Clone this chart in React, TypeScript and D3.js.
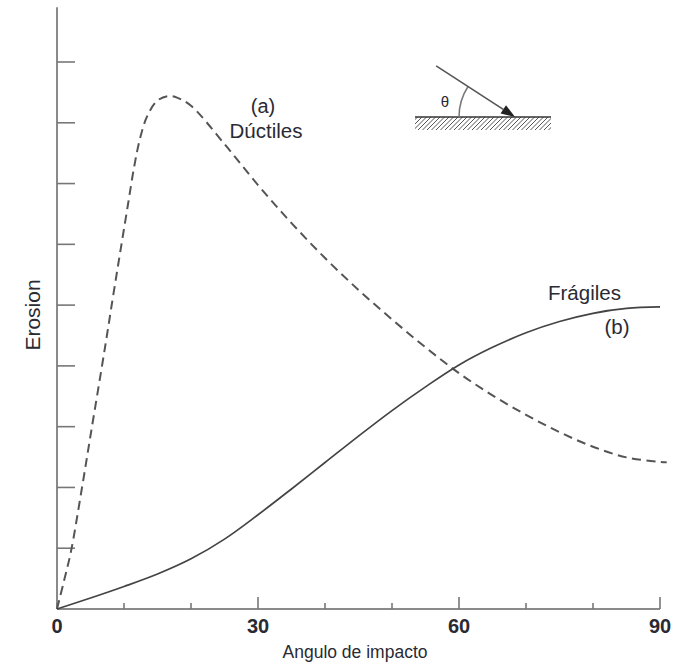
import React from "react";
import * as d3 from "d3";

// Angle of impact (degrees) and erosion (arbitrary units)
const ductileAngle = [0, 1.04, 2.09, 3.66, 5.07, 7.16, 8.42, 9.55, 10.6, 11.49, 12.39, 13.43, 14.93, 16.57, 18, 20, 25, 30, 35, 40, 45, 50, 55, 60, 65, 70, 75, 80, 85, 90, 91];
const ductileValue = [0, 0.46, 0.95, 1.95, 2.9, 4.3, 5.18, 5.95, 6.66, 7.26, 7.74, 8.1, 8.36, 8.44, 8.41, 8.28, 7.65, 6.975, 6.35, 5.775, 5.25, 4.765, 4.305, 3.88, 3.515, 3.195, 2.91, 2.67, 2.495, 2.42, 2.415];

const fragileAngle = [0, 5, 10, 15, 20, 25, 30, 35, 40, 45, 50, 55, 60, 65, 70, 75, 80, 85, 90];
const fragileValue = [0, 0.18, 0.37, 0.575, 0.825, 1.15, 1.55, 1.975, 2.41, 2.845, 3.265, 3.655, 4.015, 4.305, 4.545, 4.73, 4.865, 4.945, 4.97];

const xTicks = [0, 10, 20, 30, 40, 50, 60, 70, 80, 90];
const xTickLabels = [0, 30, 60, 90];
const yTicks = [1, 2, 3, 4, 5, 6, 7, 8, 9];

const FONT = "'Liberation Sans', Arial, sans-serif";
const TEXT = "#2a2a33";

export default function App() {
  const W = 688;
  const H = 667;
  const x = d3.scaleLinear().domain([0, 90]).range([57, 660]);
  const y = d3.scaleLinear().domain([0, 9]).range([609, 62]);

  const line = d3
    .line<[number, number]>()
    .x((d) => x(d[0]))
    .y((d) => y(d[1]))
    .curve(d3.curveCatmullRom.alpha(0.5));

  const ductile = ductileAngle.map((a, i) => [a, ductileValue[i]] as [number, number]);
  const fragile = fragileAngle.map((a, i) => [a, fragileValue[i]] as [number, number]);

  // inset geometry
  const tipX = 515;
  const tipY = 117;
  const ang = (33 * Math.PI) / 180;
  const len = 94;
  const startX = tipX - len * Math.cos(ang);
  const startY = tipY - len * Math.sin(ang);
  const r = 56;
  const arcEndX = tipX - r * Math.cos(ang);
  const arcEndY = tipY - r * Math.sin(ang);
  const ux = Math.cos(ang);
  const uy = Math.sin(ang);
  const ah = 14;
  const aw = 5;
  const baseX = tipX - ah * ux;
  const baseY = tipY - ah * uy;
  const hatchXs = d3.range(400, 560, 4.5);

  return (
    <svg
      width={W}
      height={H}
      style={{ position: "absolute", left: 0, top: 0, background: "#fff" }}
    >
      <defs>
        <clipPath id="hatchClip">
          <rect x={415} y={117} width={136} height={13} />
        </clipPath>
      </defs>
      <rect x={0} y={0} width={W} height={H} fill="#fff" />

      {/* axes */}
      <line x1={x(0)} y1={y(0)} x2={x(0)} y2={y(9.9)} stroke="#8a8a8a" strokeWidth={2} />
      <line x1={x(0)} y1={y(0)} x2={x(90)} y2={y(0)} stroke="#8a8a8a" strokeWidth={2} />
      {yTicks.map((t) => (
        <line key={"yt" + t} x1={x(0)} x2={x(0) + 18} y1={y(t)} y2={y(t)} stroke="#777" strokeWidth={1.6} />
      ))}
      {xTicks.map((t) => (
        <line
          key={"xt" + t}
          x1={x(t)}
          x2={x(t)}
          y1={y(0)}
          y2={y(0) - (t % 30 === 0 && t > 0 ? 12 : 6)}
          stroke="#777"
          strokeWidth={1.6}
        />
      ))}
      {xTickLabels.map((t) => (
        <text
          key={"xl" + t}
          x={x(t)}
          y={633}
          textAnchor="middle"
          fontFamily={FONT}
          fontSize={20}
          fontWeight="bold"
          fill={TEXT}
        >
          {t}
        </text>
      ))}
      <text x={355} y={658} textAnchor="middle" fontFamily={FONT} fontSize={17.5} fill={TEXT}>
        Angulo de impacto
      </text>
      <text
        transform="translate(40,315) rotate(-90)"
        textAnchor="middle"
        fontFamily={FONT}
        fontSize={21}
        fill={TEXT}
      >
        Erosion
      </text>

      {/* curves */}
      <path d={line(ductile) || ""} fill="none" stroke="#555" strokeWidth={2} strokeDasharray="9,5.5" />
      <path d={line(fragile) || ""} fill="none" stroke="#444" strokeWidth={1.7} />

      {/* labels */}
      <text x={263} y={113} textAnchor="middle" fontFamily={FONT} fontSize={20} fill={TEXT}>
        (a)
      </text>
      <text x={266} y={138} textAnchor="middle" fontFamily={FONT} fontSize={20.5} fill={TEXT}>
        Dúctiles
      </text>
      <text x={548} y={300} fontFamily={FONT} fontSize={20.5} fill={TEXT}>
        Frágiles
      </text>
      <text x={617} y={334} textAnchor="middle" fontFamily={FONT} fontSize={20.5} fill={TEXT}>
        (b)
      </text>

      {/* inset */}
      <g clipPath="url(#hatchClip)">
        {hatchXs.map((hx) => (
          <line key={"h" + hx} x1={hx} y1={130} x2={hx + 13} y2={117} stroke="#555" strokeWidth={1} />
        ))}
      </g>
      <line x1={415} x2={551} y1={117} y2={117} stroke="#333" strokeWidth={1.5} />
      <path
        d={`M${tipX - r},${tipY} A${r},${r} 0 0 1 ${arcEndX},${arcEndY}`}
        fill="none"
        stroke="#777"
        strokeWidth={1.5}
      />
      <line x1={startX} y1={startY} x2={baseX} y2={baseY} stroke="#555" strokeWidth={1.6} />
      <polygon
        points={`${tipX},${tipY} ${baseX - aw * uy},${baseY + aw * ux} ${baseX + aw * uy},${baseY - aw * ux}`}
        fill="#222"
      />
      <text x={445} y={107} textAnchor="middle" fontFamily={FONT} fontSize={15} fill={TEXT}>
        θ
      </text>
    </svg>
  );
}
